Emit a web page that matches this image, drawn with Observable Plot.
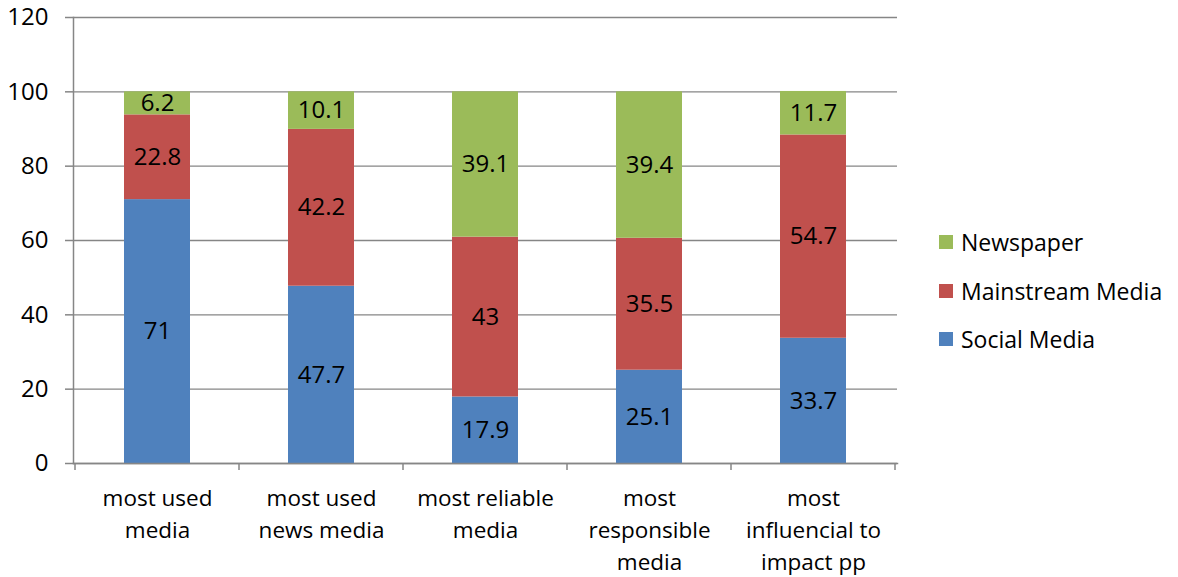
<!DOCTYPE html>
<html>
<head>
<meta charset="utf-8">
<script src="https://cdn.jsdelivr.net/npm/d3@7"></script>
<script src="https://cdn.jsdelivr.net/npm/@observablehq/plot@0.6"></script>
<style>
  body { margin: 0; background: white; }
  #wrap { position: relative; width: 1178px; height: 577px; font-family: "Open Sans", sans-serif; }
  #legend { position: absolute; left: 939px; top: 0; }
  .item { position: absolute; left: 0; display: flex; align-items: center; white-space: nowrap; font-size: 23px; color: #000; transform: translateY(-50%); }
  .sw { width: 14px; height: 14px; margin-right: 8px; flex: none; }
</style>
</head>
<body>
<div id="wrap"><div id="legend"></div></div>
<script>
const categories = [
  "most used\nmedia",
  "most used\nnews media",
  "most reliable\nmedia",
  "most\nresponsible\nmedia",
  "most\ninfluencial to\nimpact pp"
];
const seriesNames = ["Social Media", "Mainstream Media", "Newspaper"];
const seriesColors = ["#4F81BD", "#C0504D", "#9BBB59"];
const socialMedia = [71, 47.7, 17.9, 25.1, 33.7];
const mainstreamMedia = [22.8, 42.2, 43, 35.5, 54.7];
const newspaper = [6.2, 10.1, 39.1, 39.4, 11.7];
const yTicks = [0, 20, 40, 60, 80, 100, 120];

const seriesValues = [socialMedia, mainstreamMedia, newspaper];
const data = seriesNames.flatMap((s, i) =>
  categories.map((c, j) => ({category: c, series: s, value: seriesValues[i][j]}))
);

function boundaryTicks(index, scales, values, dimensions) {
  const x = scales.x;
  const bw = typeof x.bandwidth === "function" ? x.bandwidth() : x.bandwidth;
  const centers = categories.map(c => x(c) + bw / 2);
  const step = centers[1] - centers[0];
  const edges = centers.map(c => c - step / 2).concat([centers[centers.length - 1] + step / 2]);
  const y0 = dimensions.height - dimensions.marginBottom;
  const g = d3.create("svg:g").attr("stroke", "#868686").attr("stroke-width", 1.5);
  g.selectAll("line").data(edges).join("line")
    .attr("x1", d => d).attr("x2", d => d)
    .attr("y1", y0).attr("y2", y0 + 7);
  return g.node();
}

const chart = Plot.plot({
  width: 1178,
  height: 577,
  marginLeft: 73,
  marginRight: 281,
  marginTop: 17,
  marginBottom: 114,
  style: {fontFamily: "Open Sans", fontSize: "22px", color: "#000", background: "white"},
  x: {domain: categories, paddingInner: 0.6, paddingOuter: 0.3, label: null},
  y: {domain: [0, 120], ticks: yTicks, label: null},
  color: {domain: seriesNames, range: seriesColors},
  marks: [
    Plot.gridY(yTicks, {stroke: "#868686", strokeOpacity: 1, strokeWidth: 1.3}),
    Plot.barY(data, {x: "category", y: "value", fill: "series", order: null}),
    Plot.text(data, Plot.stackY({x: "category", y: "value", order: null, text: d => String(d.value), fill: "#000", fontSize: 24})),
    Plot.frame({anchor: "left", stroke: "#868686", strokeWidth: 1.5}),
    Plot.frame({anchor: "bottom", stroke: "#868686", strokeWidth: 1.5}),
    Plot.axisY({ticks: yTicks, tickSize: 8, tickPadding: 17, stroke: "#868686", strokeWidth: 1.5, fill: "#000", fontSize: 24, label: null}),
    Plot.axisX({tickSize: 0, tickPadding: 20, fill: "#000", fontSize: 22.5, lineHeight: 1.42, label: null}),
    boundaryTicks
  ]
});

const wrap = document.getElementById("wrap");
wrap.insertBefore(chart, wrap.firstChild);

const legend = document.getElementById("legend");
const legendOrder = [2, 1, 0];
const legendY = [242, 291, 339];
legendOrder.forEach((si, k) => {
  const item = document.createElement("div");
  item.className = "item";
  item.style.top = legendY[k] + "px";
  const sw = document.createElement("div");
  sw.className = "sw";
  sw.style.background = seriesColors[si];
  const label = document.createElement("span");
  label.textContent = seriesNames[si];
  item.appendChild(sw);
  item.appendChild(label);
  legend.appendChild(item);
});
</script>
</body>
</html>
